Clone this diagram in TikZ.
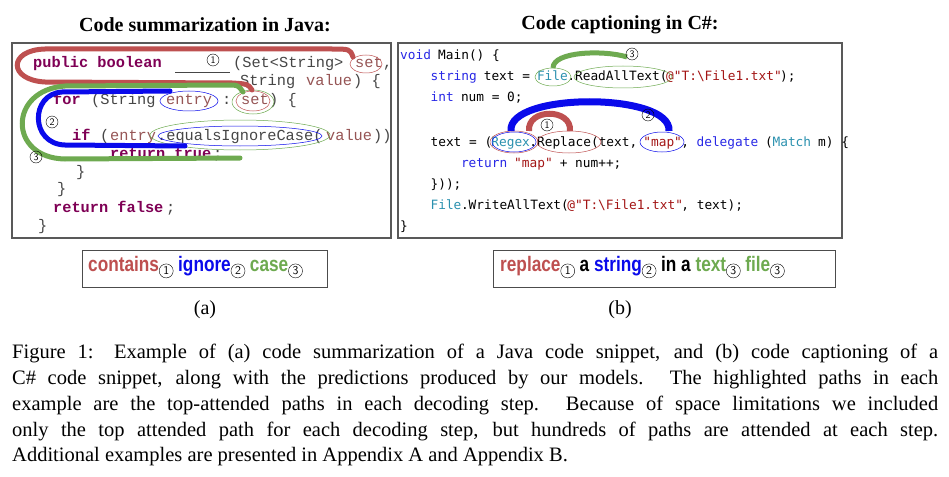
\documentclass[tikz,border=0pt]{standalone}
\usepackage{fontspec}
\setmainfont{Liberation Serif}
\newfontfamily\lmono{Liberation Mono}
\newfontfamily\rmono{DejaVu Sans Mono}
\newfontfamily\narrowsans[FakeStretch=0.82]{Liberation Sans}
\definecolor{kw}{RGB}{127,0,85}
\definecolor{gr}{RGB}{70,70,70}
\definecolor{idc}{RGB}{150,85,85}
\definecolor{pred}{RGB}{190,80,80}
\definecolor{pblue}{RGB}{10,10,235}
\definecolor{pgreen}{RGB}{110,170,80}
\definecolor{cblue}{RGB}{40,40,230}
\definecolor{teal}{RGB}{43,145,175}
\definecolor{sred}{RGB}{163,21,21}
\newcommand\lt[4]{\node[anchor=base west,inner sep=0,text=#3,font=\lmono\fontsize{15.3}{18}\selectfont] at (#1,#2) {#4};}
\newcommand\lk[3]{\node[anchor=base west,inner sep=0,text=kw,font=\lmono\bfseries\fontsize{15.3}{18}\selectfont] at (#1,#2) {#3};}
\newcommand\rt[4]{\node[anchor=base west,inner sep=0,text=#3,font=\rmono\fontsize{12.8}{15}\selectfont] at ({400+#1*7.6},#2) {#4};}
\newcommand\cn[3]{\node[circle,draw,inner sep=0pt,minimum size=12pt,font=\fontsize{10}{10}\selectfont\sffamily] at (#1,#2) {#3};}
\newcommand\subcirc[1]{\raisebox{-7pt}{\tikz\node[circle,draw,inner sep=0pt,minimum size=14pt,font=\fontsize{12}{12}\selectfont\sffamily\mdseries,text=black]{#1};}}
\begin{document}
\begin{tikzpicture}[x=1pt,y=-1pt]
\useasboundingbox (0,0) rectangle (949,476);
\fill[white] (0,0) rectangle (949,476);
% titles
\node[font=\bfseries\fontsize{20}{22}\selectfont] (t1) at (205,25) {Code summarization in Java:};
\node[font=\bfseries\fontsize{20}{22}\selectfont] (t2) at (620,25) {Code captioning in C\#:};
\draw[gray!70!black,line width=1.2pt] (12,43) rectangle (391,238);
\draw[gray!70!black,line width=1.2pt] (398,43) rectangle (842,238);
% ---------- left code
\lk{33}{68}{public boolean}
\draw[gr,line width=0.8pt] (175,72) -- (230,72);
\cn{213}{60}{1}
\lt{233}{68}{gr}{(Set<String>}
\lt{355}{68}{idc}{set}
\lt{383}{68}{gr}{,}
\lt{240}{86}{gr}{String}
\lt{306}{86}{idc}{value}
\lt{353}{86}{gr}{) \{}
\lk{53}{105}{for}
\lt{91}{105}{gr}{(String}
\lt{166}{105}{idc}{entry}
\lt{222}{105}{gr}{:}
\lt{241}{105}{idc}{set}
\lt{269}{105}{gr}{) \{}
\lk{72}{140}{if}
\lt{100}{140}{gr}{(}
\lt{110}{140}{idc}{entry}
\lt{157}{140}{gr}{.equalsIgnoreCase(}
\lt{326}{140}{idc}{value}
\lt{373}{140}{gr}{))}
\lk{110}{158}{return true}
\lt{213}{158}{gr}{;}
\lt{76}{176}{gr}{\}}
\lt{57}{193}{gr}{\}}
\lk{53}{212}{return false}
\lt{166}{212}{gr}{;}
\lt{38}{230}{gr}{\}}
% left ellipses
\draw[pred,line width=0.5pt] (366,64) ellipse [x radius=16,y radius=9];
\draw[pblue,line width=0.5pt] (189,101) ellipse [x radius=29,y radius=10];
\draw[pgreen,line width=0.5pt] (253,102) ellipse [x radius=21,y radius=12];
\draw[pred,line width=0.5pt] (253,101) ellipse [x radius=17,y radius=10];
\draw[pgreen,line width=0.5pt] (240,135) ellipse [x radius=90,y radius=15];
\draw[pblue,line width=0.5pt] (240,136) ellipse [x radius=82,y radius=10];
% left paths
\draw[pred,line width=5pt,line cap=round] (353,57) .. controls (350,49) .. (330,49) -- (45,49) .. controls (8,50) and (8,80) .. (45,82) -- (232,83) .. controls (248,84) .. (252,90);
\draw[pgreen,line width=5pt,line cap=round] (243,92) .. controls (238,85) .. (228,85) -- (65,86) .. controls (8,90) and (8,158) .. (65,159) -- (240,158);
\draw[pblue,line width=5pt,line cap=round] (170,91) -- (62,92) .. controls (30,94) and (30,144) .. (65,145) -- (185,146);
\cn{52}{122}{2}
\cn{36}{157}{3}
% ---------- right code
\rt{0}{60}{cblue}{void}
\rt{5}{60}{black}{Main() \{}
\rt{4}{81}{cblue}{string}
\rt{11}{81}{black}{text =}
\rt{18}{81}{teal}{File}
\rt{22}{81}{black}{.ReadAllText(}
\rt{35}{81}{sred}{@"T:\textbackslash File1.txt"}
\rt{50}{81}{black}{);}
\rt{4}{102}{cblue}{int}
\rt{8}{102}{black}{num = 0;}
\rt{4}{146}{black}{text = (}
\rt{12}{146}{teal}{Regex}
\rt{17}{146}{black}{.Replace(text,}
\rt{32}{146}{sred}{"map"}
\rt{37}{146}{black}{,}
\rt{39}{146}{cblue}{delegate}
\rt{48}{146}{black}{(}
\rt{49}{146}{teal}{Match}
\rt{55}{146}{black}{m) \{}
\rt{8}{167}{cblue}{return}
\rt{15}{167}{sred}{"map"}
\rt{21}{167}{black}{+ num++;}
\rt{4}{188}{black}{\}));}
\rt{4}{209}{teal}{File}
\rt{8}{209}{black}{.WriteAllText(}
\rt{22}{209}{sred}{@"T:\textbackslash File1.txt"}
\rt{37}{209}{black}{, text);}
\rt{0}{230}{black}{\}}
% right ellipses
\draw[pgreen,line width=0.5pt] (553,77) ellipse [x radius=18,y radius=9];
\draw[pgreen,line width=0.5pt] (623,77) ellipse [x radius=49,y radius=11];
\draw[pred,line width=0.5pt] (514,142) ellipse [x radius=24,y radius=11];
\draw[pblue,line width=0.5pt] (514,142) ellipse [x radius=22,y radius=10];
\draw[pred,line width=0.5pt] (569,142) ellipse [x radius=32,y radius=11];
\draw[pblue,line width=0.5pt] (662,142) ellipse [x radius=22,y radius=10];
% right arcs
\draw[pgreen,line width=5pt] (553,68) .. controls (553,51) and (605,50) .. (627,57);
\draw[pblue,line width=7pt] (511,131) .. controls (507,92) and (672,92) .. (669,131);
\draw[pred,line width=6pt] (529,131) .. controls (527,108) and (572,108) .. (570,131);
\cn{632}{54}{3}
\cn{648}{115}{2}
\cn{547}{125}{1}
% ---------- predictions
\draw[gray!60!black,line width=1pt] (82,250) rectangle (327,287);
\draw[gray!60!black,line width=1pt] (493,250) rectangle (835,287);
\node[anchor=west,inner sep=0,font=\narrowsans\bfseries\fontsize{21}{22}\selectfont] (p1) at (88,267)
 {\textcolor{pred}{contains}\subcirc{1} \textcolor{pblue}{ignore}\subcirc{2} \textcolor{pgreen}{case}\subcirc{3}};
\node[anchor=west,inner sep=0,font=\narrowsans\bfseries\fontsize{21}{22}\selectfont] (p2) at (500,267)
 {\textcolor{pred}{replace}\subcirc{1} a \textcolor{pblue}{string}\subcirc{2} in a \textcolor{pgreen}{text}\subcirc{3} \textcolor{pgreen}{file}\subcirc{3}};
\node[font=\fontsize{20}{22}\selectfont] (la) at (205,310) {(a)};
\node[font=\fontsize{20}{22}\selectfont] (lb) at (620,310) {(b)};
% caption
\node[anchor=north west,inner sep=0,text width=926pt,align=justify,font=\fontsize{20.5}{25.8}\selectfont] (cap) at (12,344)
 {Figure 1: Example of (a) code summarization of a Java code snippet, and (b) code captioning of a\linebreak C\# code snippet, along with the predictions produced by our models. The highlighted paths in each\linebreak example are the top-attended paths in each decoding step. Because of space limitations we included\linebreak only the top attended path for each decoding step, but hundreds of paths are attended at each step.\linebreak Additional examples are presented in Appendix A and Appendix B.};
\end{tikzpicture}
\end{document}
